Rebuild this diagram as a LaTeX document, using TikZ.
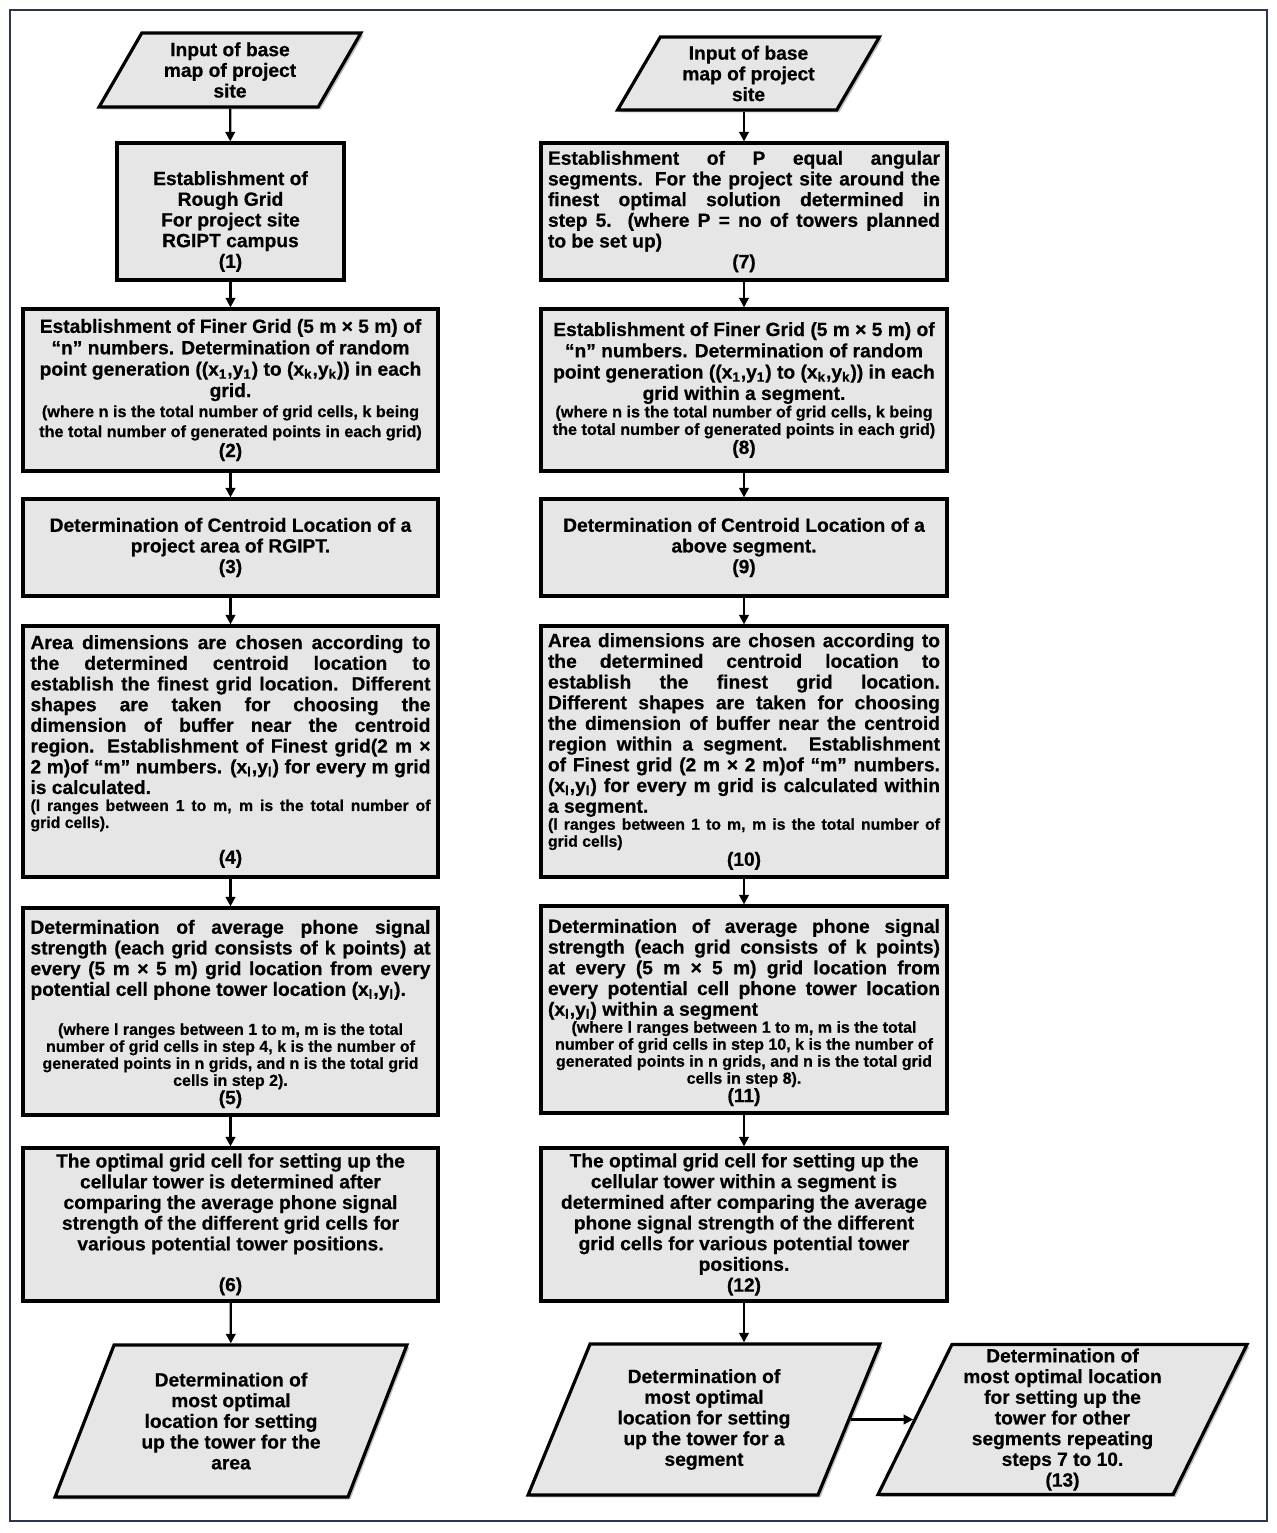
\documentclass[tikz,border=0pt]{standalone}
\usepackage{fontspec}
\setmainfont{Liberation Sans}[BoldFont={Liberation Sans Bold},BoldFeatures={FakeBold=0.55}]
\usetikzlibrary{arrows.meta,shapes.geometric,shadows}
\definecolor{boxfill}{RGB}{230,230,230}
\definecolor{framecol}{RGB}{45,55,75}
\hbadness=10000 \hfuzz=20pt \vbadness=10000
\newcommand\bigf{\fontsize{9.6}{10.35}\selectfont}
\newcommand\smA{\fontsize{8.1}{10}\selectfont}
\newcommand\smB{\fontsize{8}{8.5}\selectfont}
\newcommand\smC{\fontsize{7.9}{8.5}\selectfont}
\newcommand\lineJ[1]{\hbox to\hsize{#1}}
\newcommand\lineC[1]{\hbox to\hsize{\hfil#1\hfil}}
\newcommand\lineL[1]{\hbox to\hsize{#1\hfil}}
\newcommand\blk[2]{\vbox{\hsize=#1\relax#2}}
\newcommand\sbs[1]{\textsubscript{#1}}
\begin{document}
\begin{tikzpicture}[x=0.5pt,y=-0.5pt,
  shade/.style={drop shadow={shadow xshift=1.2pt,shadow yshift=-1.2pt,fill=black,opacity=0.25}},
  box/.style={rectangle,draw=black,line width=1.6pt,fill=boxfill,shade,inner sep=0pt,
    font=\bigf\bfseries},
  lbox/.style={box,minimum width=207.5pt},
  rbox/.style={box,minimum width=203pt},
  para/.style={trapezium,trapezium stretches=true,draw=black,line width=1.6pt,fill=boxfill,shade,
    inner sep=0pt,align=center,font=\bigf\bfseries},
  arr/.style={-{Triangle[length=4.8pt,width=4.8pt]},line width=1.1pt,black}]
\useasboundingbox (0,0) rectangle (1277,1533);
\draw[framecol,line width=0.9pt] (10,10) rectangle (1267,1521);

% ---------------- left column ----------------
\node[para,trapezium left angle=60,trapezium right angle=120,minimum width=132pt,minimum height=37pt]
  (pl) at (230,70) {Input of base\\map of project\\site};
\node[box,minimum width=113.5pt,minimum height=68.5pt] (b1) at (230.5,211.5)
  {\blk{105pt}{\vskip10pt
   \lineC{Establishment of}\lineC{Rough Grid}\lineC{For project site}\lineC{RGIPT campus}\lineC{(1)}}};
\node[lbox,minimum height=81pt] (b2) at (230.5,390)
  {\blk{200pt}{\fontsize{9.6}{10.7}\selectfont
   \lineC{Establishment of Finer Grid (5 m × 5 m) of}
   \lineC{“n” numbers. Determination of random}
   \lineC{point generation ((x\sbs1,y\sbs1) to (x\sbs k,y\sbs k)) in each}
   \lineC{grid.}
   \smA
   \lineC{(where n is the total number of grid cells, k being}
   \lineC{the total number of generated points in each grid)}
   \bigf\vskip-0.35pt
   \lineC{(2)}}};
\node[lbox,minimum height=48.5pt] (b3) at (230.5,547.5)
  {\blk{200pt}{%
   \lineC{Determination of Centroid Location of a}
   \lineC{project area of RGIPT.}
   \lineC{(3)}}};
\node[lbox,minimum height=125.5pt] (b4) at (230.5,751.5)
  {\blk{200pt}{%
   \lineJ{Area dimensions are chosen according to}
   \lineJ{the determined centroid location to}
   \lineJ{establish the finest grid location. Different}
   \lineJ{shapes are taken for choosing the}
   \lineJ{dimension of buffer near the centroid}
   \lineJ{region. Establishment of Finest grid(2 m ×}
   \lineJ{2 m)of “m” numbers. (x\sbs l,y\sbs l) for every m grid}
   \lineL{is calculated.}
   \smC
   \lineJ{(l ranges between 1 to m, m is the total number of}
   \lineL{grid cells).}
   \bigf\vskip7.6pt
   \lineC{(4)}}};
\node[lbox,minimum height=103.5pt] (b5) at (230.5,1011.5)
  {\blk{200pt}{\vskip2.5pt
   \lineJ{Determination of average phone signal}
   \lineJ{strength (each grid consists of k points) at}
   \lineJ{every (5 m × 5 m) grid location from every}
   \lineL{potential cell phone tower location (x\sbs l,y\sbs l).}
   \smB\vskip11pt
   \lineC{(where l ranges between 1 to m, m is the total}
   \lineC{number of grid cells in step 4, k is the number of}
   \lineC{generated points in n grids, and n is the total grid}
   \lineC{cells in step 2).}
   \bigf\vskip-1.2pt
   \lineC{(5)}}};
\node[lbox,minimum height=76.5pt] (b6) at (230.5,1224.5)
  {\blk{200pt}{%
   \lineC{The optimal grid cell for setting up the}
   \lineC{cellular tower is determined after}
   \lineC{comparing the average phone signal}
   \lineC{strength of the different grid cells for}
   \lineC{various potential tower positions.}
   \vskip10.1pt
   \lineC{(6)}}};
\node[para,trapezium left angle=65,trapezium right angle=115,minimum width=176pt,minimum height=76pt]
  (plb) at (231,1421) {Determination of\\most optimal\\location for setting\\up the tower for the\\area};

% ---------------- right column ----------------
\node[para,trapezium left angle=60,trapezium right angle=120,minimum width=132pt,minimum height=36.5pt]
  (pr) at (748.5,73.5) {Input of base\\map of project\\site};
\node[rbox,minimum height=68.5pt] (b7) at (744,211.5)
  {\blk{196pt}{%
   \lineJ{Establishment of P equal angular}
   \lineJ{segments. For the project site around the}
   \lineJ{finest optimal solution determined in}
   \lineJ{step 5. (where P = no of towers planned}
   \lineL{to be set up)}
   \lineC{(7)}}};
\node[rbox,minimum height=81pt] (b8) at (744,390)
  {\blk{196pt}{\fontsize{9.6}{10.65}\selectfont
   \lineC{Establishment of Finer Grid (5 m × 5 m) of}
   \lineC{“n” numbers. Determination of random}
   \lineC{point generation ((x\sbs1,y\sbs1) to (x\sbs k,y\sbs k)) in each}
   \lineC{grid within a segment.}
   \fontsize{8.1}{8.75}\selectfont
   \lineC{(where n is the total number of grid cells, k being}
   \lineC{the total number of generated points in each grid)}
   \bigf\vskip-0.85pt
   \lineC{(8)}}};
\node[rbox,minimum height=48.5pt] (b9) at (744,547.5)
  {\blk{196pt}{%
   \lineC{Determination of Centroid Location of a}
   \lineC{above segment.}
   \lineC{(9)}}};
\node[rbox,minimum height=125.5pt] (b10) at (744,751.5)
  {\blk{196pt}{%
   \lineJ{Area dimensions are chosen according to}
   \lineJ{the determined centroid location to}
   \lineJ{establish the finest grid location.}
   \lineJ{Different shapes are taken for choosing}
   \lineJ{the dimension of buffer near the centroid}
   \lineJ{region within a segment. Establishment}
   \lineJ{of Finest grid (2 m × 2 m)of “m” numbers.}
   \lineJ{(x\sbs l,y\sbs l) for every m grid is calculated within}
   \lineL{a segment.}
   \smC
   \lineJ{(l ranges between 1 to m, m is the total number of}
   \lineL{grid cells)}
   \bigf\vskip-0.8pt
   \lineC{(10)}}};
\node[rbox,minimum height=103.5pt] (b11) at (744,1009.5)
  {\blk{196pt}{\vskip3pt
   \lineJ{Determination of average phone signal}
   \lineJ{strength (each grid consists of k points)}
   \lineJ{at every (5 m × 5 m) grid location from}
   \lineJ{every potential cell phone tower location}
   \lineL{(x\sbs l,y\sbs l) within a segment}
   \smB
   \lineC{(where l ranges between 1 to m, m is the total}
   \lineC{number of grid cells in step 10, k is the number of}
   \lineC{generated points in n grids, and n is the total grid}
   \lineC{cells in step 8).}
   \bigf\vskip-1.2pt
   \lineC{(11)}}};
\node[rbox,minimum height=76.5pt] (b12) at (744,1224.5)
  {\blk{196pt}{%
   \lineC{The optimal grid cell for setting up the}
   \lineC{cellular tower within a segment is}
   \lineC{determined after comparing the average}
   \lineC{phone signal strength of the different}
   \lineC{grid cells for various potential tower}
   \lineC{positions.}
   \lineC{(12)}}};
\node[para,trapezium left angle=65,trapezium right angle=115,minimum width=176pt,minimum height=75.5pt]
  (p12) at (704,1419.5) {Determination of\\most optimal\\location for setting\\up the tower for a\\segment};
\node[para,trapezium left angle=65,trapezium right angle=115,minimum width=184.5pt,minimum height=75pt]
  (p13) at (1062.5,1419.5) {Determination of\\most optimal location\\for setting up the\\tower for other\\segments repeating\\steps 7 to 10.\\(13)};

% ---------------- connectors ----------------
\draw[arr] (pl) -- (b1);
\draw[arr] (b1) -- (b2);
\draw[arr] (b2) -- (b3);
\draw[arr] (b3) -- (b4);
\draw[arr] (b4) -- (b5);
\draw[arr] (b5) -- (b6);
\draw[arr] (b6) -- (plb);
\draw[arr] (b7.north |- pr.south) -- (b7.north);
\draw[arr] (b7) -- (b8);
\draw[arr] (b8) -- (b9);
\draw[arr] (b9) -- (b10);
\draw[arr] (b10) -- (b11);
\draw[arr] (b11) -- (b12);
\draw[arr] (b12.south) -- (b12.south |- p12.north);
\draw[arr,line width=1.4pt] (p12) -- (p13);
\end{tikzpicture}
\end{document}
